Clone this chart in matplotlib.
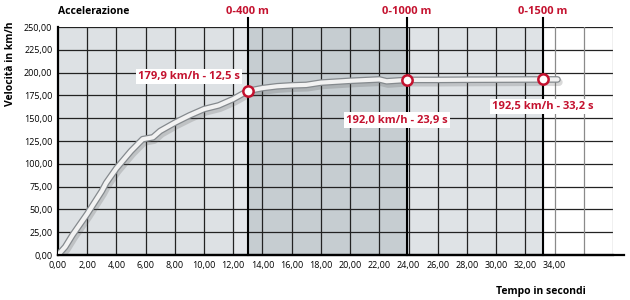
import matplotlib.pyplot as plt
import matplotlib.patheffects as pe
import numpy as np

plt.rcParams['font.family'] = ['Open Sans', 'DejaVu Sans']

# curve (time s, speed km/h)
tempo = [0, 0.5, 1, 2, 3, 3.3, 4, 5, 5.8, 6.5, 7, 8, 9, 10, 11, 12, 13,
         14, 15, 16, 17, 18, 20, 22, 22.5, 23.9, 26, 28, 30, 33.2, 34.2]
velocita = [0, 9, 22, 45, 70, 79, 95, 114, 127, 129, 136, 145, 153, 160, 164, 171, 179.9,
            183, 185, 186, 186.5, 189, 191, 192.5, 190.5, 192, 192, 192.2, 192.3, 192.5, 192.5]

# marks
dist_labels = ['0-400 m', '0-1000 m', '0-1500 m']
dist_t = [13.0, 23.9, 33.2]
dist_v = [179.9, 192.0, 192.5]
dist_text = ['179,9 km/h - 12,5 s', '192,0 km/h - 23,9 s', '192,5 km/h - 33,2 s']
text_pos = [(9.0, 196), (23.2, 148), (33.2, 163)]

xticks = np.arange(0, 35, 2)
yticks = np.arange(0, 251, 25)

red = '#c4122f'

fig = plt.figure(figsize=(6.3, 3.0), dpi=100)
ax = fig.add_axes([0.092, 0.15, 0.881, 0.76])
ax.set_xlim(0, 38)
ax.set_ylim(0, 250)

# background zones
ax.axvspan(0, dist_t[0], color='#dde1e4', zorder=0)
ax.axvspan(12, dist_t[0], color='#e4e7ea', zorder=0)
ax.axvspan(dist_t[0], dist_t[1], color='#c6cdd1', zorder=0)
ax.axvspan(dist_t[1], dist_t[2], color='#dfe3e6', zorder=0)

# grid
for y in yticks:
    ax.axhline(y, color='#222222', lw=0.9, zorder=1)
for x in np.arange(2, 39, 2):
    c = '#222222' if x < dist_t[2] else '#8a8a8a'
    ax.axvline(x, color=c, lw=0.9, zorder=1)

for s in ['top', 'right']:
    ax.spines[s].set_visible(False)
ax.spines['left'].set_linewidth(1.6)
ax.spines['bottom'].set_linewidth(1.6)
ax.plot([0, 1.02], [0, 0], transform=ax.transAxes, color='black', lw=1.6,
        clip_on=False, zorder=5)

# distance lines
for t, lab in zip(dist_t, dist_labels):
    ax.plot([t, t], [0, 260], color='black', lw=1.5, clip_on=False, zorder=2)
    ax.text(t, 267, lab, color=red, fontsize=8, fontweight='bold',
            ha='center', va='center', clip_on=False)

# curve with outline and shadow
ax.plot(tempo, velocita, color='#f2f2f2', lw=3.0, zorder=3, solid_capstyle='round',
        path_effects=[pe.SimpleLineShadow(offset=(1, -2), shadow_color='#555555', alpha=0.22, linewidth=5.5),
                      pe.Stroke(linewidth=4.8, foreground='#858a8e'),
                      pe.Normal()])

ax.scatter(dist_t, dist_v, s=55, facecolor='white', edgecolor=red, linewidth=1.8, zorder=4)
for (x, y), txt in zip(text_pos, dist_text):
    ax.text(x, y, txt, color=red, fontsize=8, fontweight='bold', ha='center', va='center',
            bbox=dict(facecolor='white', edgecolor='none', pad=1.5), zorder=6)

ax.set_xticks(xticks)
ax.set_xticklabels([f'{x:.2f}'.replace('.', ',') for x in xticks], fontsize=6.5)
ax.set_yticks(yticks)
ax.set_yticklabels([f'{y:.2f}'.replace('.', ',') for y in yticks], fontsize=6.5)
ax.tick_params(length=0, pad=4)

fig.text(0.092, 0.962, 'Accelerazione', fontsize=7.5, fontweight='bold', va='center', ha='left')
fig.text(0.017, 0.787, 'Velocità in km/h', fontsize=7.5, fontweight='bold', rotation=90,
         va='center', ha='center')
fig.text(0.859, 0.027, 'Tempo in secondi', fontsize=7.5, fontweight='bold', va='center', ha='center')

fig.savefig('out.png', dpi=100)
